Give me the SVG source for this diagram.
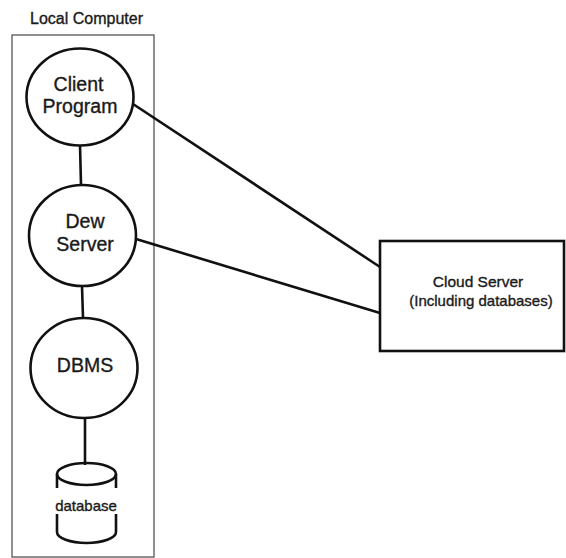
<svg xmlns="http://www.w3.org/2000/svg" width="566" height="558" viewBox="0 0 566 558">
<style>
.t{font-family:"Liberation Sans",Arial,sans-serif;fill:#1a1a1a;stroke:#1a1a1a;stroke-width:0.35;text-anchor:middle}
.n{fill:#fff;stroke:#111;stroke-width:2.6}
.c{stroke:#111;stroke-width:2.6;fill:none}
</style>
<rect width="566" height="558" fill="#fff"/>
<g id="local-computer">
<rect x="12" y="35" width="142" height="522" fill="none" stroke="#555" stroke-width="1.3"/>
<text class="t" x="86.5" y="24" font-size="16">Local Computer</text>
</g>
<g id="connectors">
<line class="c" x1="80" y1="145" x2="81" y2="185"/>
<line class="c" x1="82" y1="286" x2="83" y2="318"/>
<line class="c" x1="85" y1="418" x2="85" y2="465"/>
<line class="c" x1="133" y1="104" x2="380" y2="267"/>
<line class="c" x1="136" y1="239" x2="380" y2="313"/>
</g>
<g id="client-program">
<ellipse class="n" cx="80" cy="97" rx="53.5" ry="48.5"/>
<text class="t" x="78.5" y="91" font-size="19.5">Client</text>
<text class="t" x="80" y="113" font-size="19.5">Program</text>
</g>
<g id="dew-server">
<ellipse class="n" cx="82.5" cy="235.5" rx="53.5" ry="50.5"/>
<text class="t" x="85" y="228" font-size="19.5">Dew</text>
<text class="t" x="85" y="251" font-size="19.5">Server</text>
</g>
<g id="dbms">
<ellipse class="n" cx="84" cy="368" rx="53.5" ry="50"/>
<text class="t" x="85" y="372" font-size="19.5">DBMS</text>
</g>
<g id="database">
<ellipse class="c" cx="86.5" cy="474" rx="29.5" ry="11" fill="#fff"/>
<path class="c" d="M57 474 V488 M116 474 V488 M57 514 V532 A29.5 11 0 0 0 116 532 V514"/>
<text class="t" x="86" y="511" font-size="15">database</text>
</g>
<g id="cloud-server">
<rect class="n" x="380" y="241" width="184" height="110"/>
<text class="t" x="478" y="287" font-size="15.5">Cloud Server</text>
<text class="t" x="481" y="306" font-size="15">(Including databases)</text>
</g>
</svg>
